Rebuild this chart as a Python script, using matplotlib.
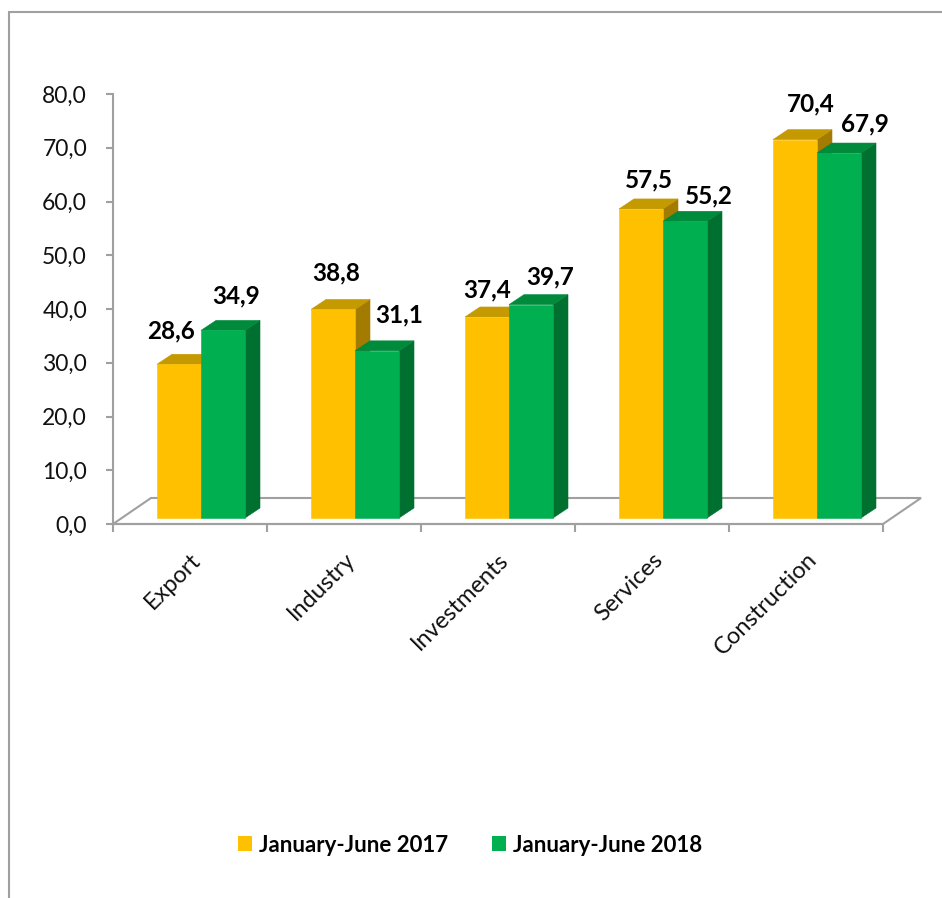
import matplotlib
matplotlib.use("Agg")
import matplotlib.pyplot as plt
from matplotlib.patches import Polygon, Patch, Rectangle
from matplotlib.transforms import ScaledTranslation
import numpy as np

# ---------------- data ----------------
categories = ["Export", "Industry", "Investments", "Services", "Construction"]
series_names = ["January-June 2017", "January-June 2018"]
values_2017 = [28.6, 38.8, 37.4, 57.5, 70.4]
values_2018 = [34.9, 31.1, 39.7, 55.2, 67.9]
y_ticks = [0, 10, 20, 30, 40, 50, 60, 70, 80]

# ---------------- style ----------------
W, H, DPI = 942, 898, 100
PT = 72 / DPI
plt.rcParams["font.family"] = ["Lato", "DejaVu Sans"]
GRAY = "#A0A0A0"
FRONT = ["#FFC000", "#00B050"]
TOP = ["#C49A00", "#008A3C"]
SIDE = ["#A27B00", "#007030"]
# label nudges in pixels (dx, dy) relative to top-front centre of each bar
NUDGE = [
    [(-8, 26), (3, 29), (0, 20), (8, 22), (16, 28)],
    [(13, 27), (22, 28), (19, 20), (24, 18), (26, 22)],
]

fig = plt.figure(figsize=(W / DPI, H / DPI), dpi=DPI)
fig.patch.set_facecolor("white")

# outer chart border (runs off right/bottom)
fig.patches.append(Rectangle((9 / W, -0.05), 1.2, (H - 12) / H + 0.05,
                             transform=fig.transFigure, fill=False,
                             edgecolor=GRAY, linewidth=1.5, clip_on=False))

ax = fig.add_axes([113 / W, (H - 524) / H, 770 / W, 430 / H])
ax.set_xlim(-0.5, len(categories) - 0.5)
ax.set_ylim(0, 80)
ax.patch.set_alpha(0)

ux = 770 / len(categories)   # px per x unit
uy = 430 / 80                # px per y unit


def off(dx, dy):
    return ax.transData + ScaledTranslation(dx / DPI, dy / DPI, fig.dpi_scale_trans)


# floor
fdx, fdy = 38 / ux, 26 / uy
x0, x1 = -0.5, len(categories) - 0.5
ax.add_patch(Polygon([(x0, 0), (x1, 0), (x1 + fdx, fdy), (x0 + fdx, fdy)],
                     closed=True, fill=False, edgecolor=GRAY, linewidth=1.5,
                     clip_on=False, zorder=1))

# bars
w = 44 / ux
ddx, ddy = 15 / ux, 10 / uy
bar_tr = off(11, 6)
xs = np.arange(len(categories))
for s, vals in enumerate([values_2017, values_2018]):
    lefts = xs - w + s * w
    z = 3 + s
    for l, v in zip(lefts, vals):
        r = l + w
        ax.add_patch(Polygon([(r, 0), (r, v), (r + ddx, v + ddy), (r + ddx, ddy)],
                             closed=True, facecolor=SIDE[s], edgecolor=SIDE[s],
                             linewidth=0.4, transform=bar_tr, clip_on=False, zorder=z))
        ax.add_patch(Polygon([(l, v), (r, v), (r + ddx, v + ddy), (l + ddx, v + ddy)],
                             closed=True, facecolor=TOP[s], edgecolor=TOP[s],
                             linewidth=0.4, transform=bar_tr, clip_on=False, zorder=z))
    ax.bar(lefts, vals, width=w, align="edge", color=FRONT[s], edgecolor=FRONT[s],
           linewidth=0.4, transform=bar_tr, clip_on=False, zorder=z + 0.1)
    for i, (l, v) in enumerate(zip(lefts, vals)):
        ndx, ndy = NUDGE[s][i]
        ax.text(l + w / 2, v, f"{v:.1f}".replace(".", ","), ha="center", va="baseline",
                fontsize=17.5, fontweight="bold", color="black",
                transform=off(11 + ndx, 6 + ndy), zorder=10, clip_on=False)

# axes styling
for sp in ["top", "right"]:
    ax.spines[sp].set_visible(False)
for sp in ["left", "bottom"]:
    ax.spines[sp].set_color(GRAY)
    ax.spines[sp].set_linewidth(1.5)

ax.set_yticks(y_ticks)
ax.set_yticklabels([f"{t:.1f}".replace(".", ",") for t in y_ticks])
ax.tick_params(axis="y", length=7 * PT, width=1.5, color=GRAY, pad=19 * PT,
               labelsize=16.5, labelcolor="#111111")
ax.set_xticks(np.arange(-0.5, len(categories), 1.0))
ax.tick_params(axis="x", length=8 * PT, width=1.5, color=GRAY, labelbottom=False)

for i, cat in enumerate(categories):
    ax.text(i, 0, cat, rotation=45, ha="right", va="top", rotation_mode="anchor",
            fontsize=17, color="#111111", transform=off(0, -25), clip_on=False)

# legend
handles = [Patch(facecolor=FRONT[0], edgecolor="none"),
           Patch(facecolor=FRONT[1], edgecolor="none")]
fig.legend(handles, series_names, loc="center", bbox_to_anchor=(470 / W, 1 - 845 / H),
           ncol=2, frameon=False, prop={"weight": "bold", "size": 16},
           handlelength=0.63, handleheight=0.63, handletextpad=0.3, columnspacing=2.0,
           borderaxespad=0, borderpad=0)

fig.savefig("out.png", dpi=DPI, facecolor="white")
